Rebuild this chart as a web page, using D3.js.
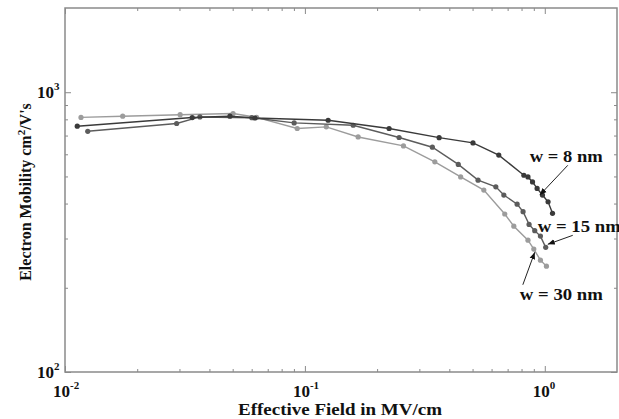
<!DOCTYPE html>
<html>
<head>
<meta charset="utf-8">
<script src="https://cdn.jsdelivr.net/npm/d3@7"></script>
<style>
  body { margin: 0; background: #fff; }
  text { font-family: "Liberation Serif", "Times New Roman", serif; font-weight: bold; }
</style>
</head>
<body>
<div id="chart"></div>
<script>
// effective field (MV/cm) and mobility (cm2/Vs)
var field8 = [0.01125, 0.0339, 0.0487, 0.0619, 0.125, 0.2244, 0.3627, 0.502, 0.643, 0.818, 0.851, 0.889, 0.929, 0.978, 1.032, 1.077];
var mob8 = [756, 812, 821, 809, 794, 742, 688, 659, 596, 505, 498, 478, 453, 429, 406, 369];

var field15 = [0.01244, 0.0292, 0.0365, 0.0601, 0.0902, 0.159, 0.247, 0.340, 0.436, 0.527, 0.625, 0.675, 0.767, 0.812, 0.860, 0.908, 0.959, 1.009];
var mob15 = [725, 773, 816, 811, 777, 762, 689, 636, 552, 485, 459, 429, 398, 374, 337, 320, 306, 279];

var field30 = [0.01166, 0.0174, 0.0302, 0.0502, 0.0629, 0.0929, 0.1228, 0.1667, 0.2576, 0.348, 0.446, 0.557, 0.681, 0.743, 0.851, 0.900, 0.959, 1.016];
var mob30 = [813, 821, 831, 839, 813, 742, 752, 692, 643, 564, 498, 447, 367, 332, 296, 275, 251, 239];

var seriesNames = ["w = 8 nm", "w = 15 nm", "w = 30 nm"];
var seriesColors = ["#3a3a3a", "#5c5c5c", "#9c9c9c"];

var xMajor = [0.01, 0.1, 1];
var xMinor = [0.02, 0.03, 0.04, 0.05, 0.06, 0.07, 0.08, 0.09, 0.2, 0.3, 0.4, 0.5, 0.6, 0.7, 0.8, 0.9];
var yMajor = [100, 1000];
var yMinor = [200, 300, 400, 500, 600, 700, 800, 900];

// label anchor, arrow tail, arrow tip (data space)
var annLabel = [[0.866, 562], [0.935, 316], [0.787, 181]];
var annTail = [[1.247, 548], [1.308, 308], [0.81, 205]];
var annTip = [[0.953, 429], [1.029, 286], [0.908, 268]];
var annWidth = [73, 83, 83];

var width = 619, height = 419;
var margin = { left: 65, top: 8, right: 2, bottom: 47 };
var w = width - margin.left - margin.right;
var h = height - margin.top - margin.bottom;

var svg = d3.select("#chart").append("svg")
  .attr("width", width).attr("height", height);

svg.append("defs").append("marker")
  .attr("id", "arrow")
  .attr("viewBox", "0 0 10 10")
  .attr("refX", 10).attr("refY", 5)
  .attr("markerWidth", 7).attr("markerHeight", 7)
  .attr("orient", "auto")
  .append("path").attr("d", "M0,1 L10,5 L0,9 Z").attr("fill", "#111");

var g = svg.append("g").attr("transform", "translate(" + margin.left + "," + margin.top + ")");

var x = d3.scaleLog().domain([0.01, 2]).range([0, w]);
var y = d3.scaleLog().domain([100, 2000]).range([h, 0]);

var axisColor = "#8a8a8a";

// ticks pointing inward on all four sides
function ticks(axis, sel) {
  sel.call(axis);
  sel.select(".domain").remove();
  sel.selectAll("line").attr("stroke", axisColor).attr("stroke-width", 1);
}
ticks(d3.axisBottom(x).tickValues(xMinor).tickFormat("").tickSizeInner(-3).tickSizeOuter(0), g.append("g").attr("transform", "translate(0," + h + ")"));
ticks(d3.axisBottom(x).tickValues(xMajor).tickFormat("").tickSizeInner(-6).tickSizeOuter(0), g.append("g").attr("transform", "translate(0," + h + ")"));
ticks(d3.axisTop(x).tickValues(xMinor).tickFormat("").tickSizeInner(-3).tickSizeOuter(0), g.append("g"));
ticks(d3.axisTop(x).tickValues(xMajor).tickFormat("").tickSizeInner(-6).tickSizeOuter(0), g.append("g"));
ticks(d3.axisLeft(y).tickValues(yMinor).tickFormat("").tickSizeInner(-3).tickSizeOuter(0), g.append("g"));
ticks(d3.axisLeft(y).tickValues(yMajor).tickFormat("").tickSizeInner(-6).tickSizeOuter(0), g.append("g"));
ticks(d3.axisRight(y).tickValues(yMinor).tickFormat("").tickSizeInner(-3).tickSizeOuter(0), g.append("g").attr("transform", "translate(" + w + ",0)"));
ticks(d3.axisRight(y).tickValues(yMajor).tickFormat("").tickSizeInner(-6).tickSizeOuter(0), g.append("g").attr("transform", "translate(" + w + ",0)"));

g.append("rect")
  .attr("width", w).attr("height", h)
  .attr("fill", "none").attr("stroke", axisColor).attr("stroke-width", 1.5);

// tick labels as 10 with superscript exponent
xMajor.forEach(function (v) {
  var t = g.append("text")
    .attr("x", x(v) - 12).attr("y", h + 25)
    .attr("font-size", 17).attr("fill", "#111");
  t.append("tspan").text("10");
  t.append("tspan").attr("dy", -8).attr("font-size", 11).text(String(Math.round(Math.log10(v))));
});
yMajor.forEach(function (v) {
  var t = g.append("text")
    .attr("x", -28).attr("y", y(v) + 6)
    .attr("font-size", 17).attr("fill", "#111");
  t.append("tspan").text("10");
  t.append("tspan").attr("dy", -8).attr("font-size", 11).text(String(Math.round(Math.log10(v))));
});

svg.append("text")
  .attr("x", 238).attr("y", 415)
  .attr("font-size", 17).attr("fill", "#111")
  .attr("textLength", 204).attr("lengthAdjust", "spacingAndGlyphs")
  .text("Effective Field in MV/cm");

var yl = svg.append("text")
  .attr("transform", "translate(31,192) rotate(-90)")
  .attr("text-anchor", "middle").attr("font-size", 16).attr("fill", "#111");
yl.append("tspan").text("Electron Mobility cm");
yl.append("tspan").attr("dy", -6).attr("font-size", 11).text("2");
yl.append("tspan").attr("dy", 6).text("/V's");

// series
var fields = [field8, field15, field30];
var mobs = [mob8, mob15, mob30];
var line = d3.line().x(function (d) { return x(d[0]); }).y(function (d) { return y(d[1]); });

// draw light first so dark lines sit on top
[2, 1, 0].forEach(function (i) {
  var pts = fields[i].map(function (f, k) { return [f, mobs[i][k]]; });
  g.append("path").datum(pts)
    .attr("d", line).attr("fill", "none")
    .attr("stroke", seriesColors[i]).attr("stroke-width", 1.4);
  g.selectAll(null).data(pts).enter().append("circle")
    .attr("cx", function (d) { return x(d[0]); })
    .attr("cy", function (d) { return y(d[1]); })
    .attr("r", 2.6).attr("fill", seriesColors[i]);
});

// annotations
seriesNames.forEach(function (name, i) {
  g.append("text")
    .attr("x", x(annLabel[i][0])).attr("y", y(annLabel[i][1]))
    .attr("font-size", 16).attr("fill", "#111")
    .attr("textLength", annWidth[i]).attr("lengthAdjust", "spacingAndGlyphs")
    .text(name);
  g.append("line")
    .attr("x1", x(annTail[i][0])).attr("y1", y(annTail[i][1]))
    .attr("x2", x(annTip[i][0])).attr("y2", y(annTip[i][1]))
    .attr("stroke", "#222").attr("stroke-width", 1)
    .attr("marker-end", "url(#arrow)");
});
</script>
</body>
</html>
